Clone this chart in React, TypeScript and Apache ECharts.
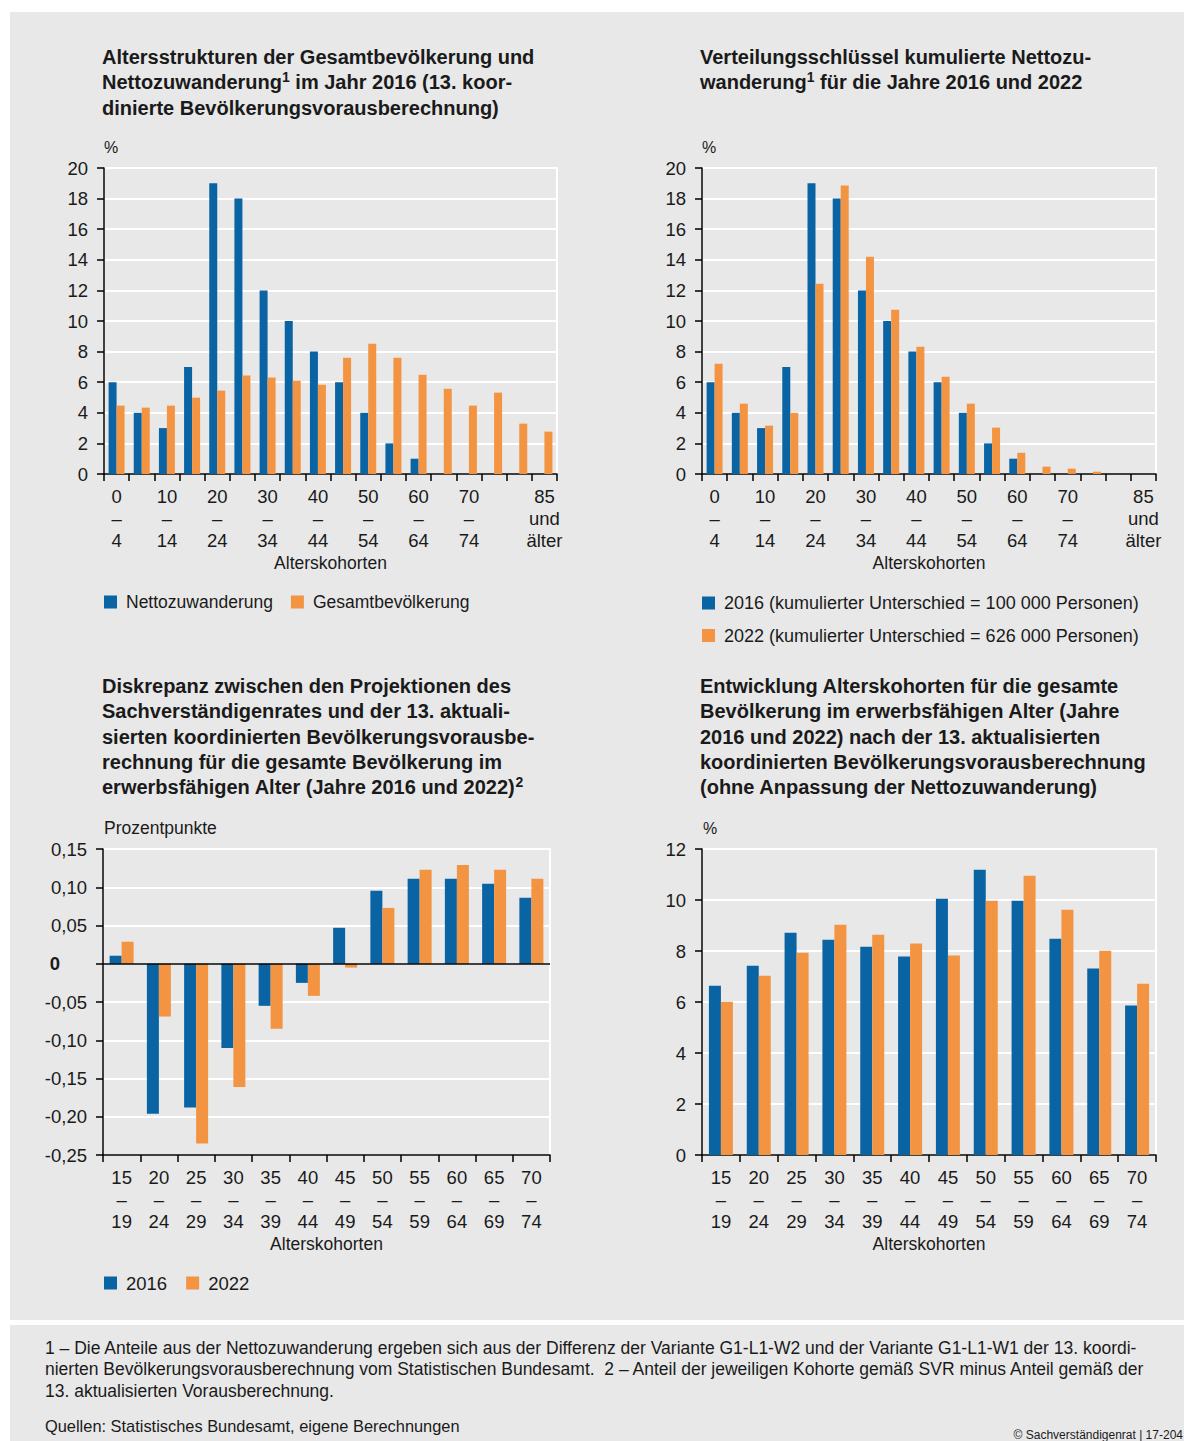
import React, { useEffect, useRef } from 'react';
import * as echarts from 'echarts';

const BLUE = '#0a63a3';
const ORANGE = '#f39443';
const TEXT = '#1a1a1a';
const BG = '#e8e8e8';
const FONT = '"Liberation Sans", Arial, sans-serif';

// Chart 1 + 2: age cohorts (all ages)
const cohortsAll = ['0–4', '5–9', '10–14', '15–19', '20–24', '25–29', '30–34', '35–39', '40–44', '45–49', '50–54', '55–59', '60–64', '65–69', '70–74', '75–79', '80–84', '85 und älter'];
const nettozuwanderung = [6, 4, 3, 7, 19, 18, 12, 10, 8, 6, 4, 2, 1, 0, 0, 0, 0, 0];
const gesamtbevoelkerung = [4.47, 4.34, 4.47, 4.99, 5.45, 6.43, 6.3, 6.1, 5.84, 7.6, 8.52, 7.6, 6.49, 5.58, 4.47, 5.32, 3.29, 2.77];
const verteilung2016 = [6, 4, 3, 7, 19, 18, 12, 10, 8, 6, 4, 2, 1, 0, 0, 0, 0, 0];
const verteilung2022 = [7.21, 4.6, 3.16, 4.0, 12.44, 18.85, 14.2, 10.74, 8.32, 6.36, 4.6, 3.03, 1.39, 0.48, 0.35, 0.15, 0, 0];

// Chart 3 + 4: working-age cohorts
const cohortsWork = ['15–19', '20–24', '25–29', '30–34', '35–39', '40–44', '45–49', '50–54', '55–59', '60–64', '65–69', '70–74'];
const diskrepanz2016 = [0.0105, -0.196, -0.188, -0.11, -0.055, -0.025, 0.047, 0.0954, 0.111, 0.111, 0.1046, 0.0863];
const diskrepanz2022 = [0.0288, -0.069, -0.235, -0.161, -0.085, -0.042, -0.005, 0.073, 0.123, 0.129, 0.123, 0.111];
const entwicklung2016 = [6.64, 7.42, 8.72, 8.44, 8.17, 7.78, 10.05, 11.19, 9.97, 8.48, 7.31, 5.86];
const entwicklung2022 = [6.01, 7.03, 7.93, 9.03, 8.64, 8.29, 7.82, 9.97, 10.95, 9.62, 8.01, 6.72];

// axis ranges
const yRange1 = { min: 0, max: 20, interval: 2 };
const yRange3 = { min: -0.25, max: 0.15, interval: 0.05 };
const yRange4 = { min: 0, max: 12, interval: 2 };

const legend1 = ['Nettozuwanderung', 'Gesamtbevölkerung'];
const legend2 = ['2016 (kumulierter Unterschied = 100 000 Personen)', '2022 (kumulierter Unterschied = 626 000 Personen)'];
const legend3 = ['2016', '2022'];

const LABEL_SIZE = 17.5;
const TICK_SIZE = 18.5;
const labelStyle = { fontFamily: FONT, fontSize: LABEL_SIZE, color: TEXT };
const tickStyle = { fontFamily: FONT, fontSize: TICK_SIZE, color: TEXT };

const fmtCohort = (v: string) =>
  v.includes('–') ? v.split('–').join('\n–\n') : v.split(' ').join('\n');

const showEveryOther = (i: number) => (i % 2 === 0 && i <= 14) || i === 17;

function xAxisFor(gridIndex: number, data: string[], labelInterval: any) {
  return {
    type: 'category',
    gridIndex,
    data,
    position: 'bottom',
    z: 1,
    axisLine: { onZero: false, lineStyle: { color: '#000', width: 1.5 } },
    axisTick: { show: true, interval: 0, length: 7, lineStyle: { color: '#000', width: 1.5 } },
    axisLabel: { interval: labelInterval, formatter: fmtCohort, margin: 11, lineHeight: 22, ...tickStyle },
    splitLine: { show: false },
    name: 'Alterskohorten',
    nameLocation: 'middle',
    nameGap: 80,
    nameTextStyle: { ...labelStyle },
  };
}

function yAxisFor(gridIndex: number, range: any, formatter?: any, rich?: any) {
  return {
    type: 'value',
    gridIndex,
    ...range,
    z: 1,
    axisLine: { show: true, lineStyle: { color: '#000', width: 1.5 } },
    axisTick: { show: true, length: 7, lineStyle: { color: '#000', width: 1.5 } },
    axisLabel: { margin: 16, formatter, rich, ...tickStyle },
    splitLine: { show: true, lineStyle: { color: '#fff', width: 2 } },
  };
}

function bar(name: string, data: number[], color: string, axisIndex: number, width: number, extra: any = {}) {
  return {
    type: 'bar',
    name,
    data,
    xAxisIndex: axisIndex,
    yAxisIndex: axisIndex,
    barWidth: width,
    barGap: '0%',
    z: 2,
    itemStyle: { color },
    emphasis: { disabled: true },
    ...extra,
  };
}

function txt(text: string, x: number, y: number, size: number, opts: any = {}) {
  const align = opts.align || 'left';
  const vAlign = opts.vAlign || 'middle';
  return {
    type: 'text',
    x,
    y,
    silent: true,
    z: 10,
    style: {
      text,
      fill: TEXT,
      font: `${opts.bold ? 'bold ' : ''}${size}px ${FONT}`,
      fontSize: size,
      fontFamily: FONT,
      fontWeight: opts.bold ? 'bold' : 'normal',
      lineHeight: opts.lineHeight,
      align,
      verticalAlign: vAlign,
      textAlign: align,
      textVerticalAlign: vAlign,
      rich: opts.rich,
    },
  };
}

const supRich = {
  sup: { fontSize: 14, fontWeight: 'bold', fontFamily: FONT, verticalAlign: 'top', lineHeight: 16, fill: TEXT, color: TEXT },
};

const fmtDec = (v: number) => {
  if (Math.abs(v) < 1e-9) return '{z|0}';
  const s = Math.abs(v).toFixed(2).replace('.', ',');
  return v < 0 ? '-' + s : s;
};

const legendBase = {
  padding: 0,
  itemWidth: 13,
  itemHeight: 13,
  icon: 'rect',
  selectedMode: false,
};

export default function App() {
  const ref = useRef<HTMLDivElement>(null);
  useEffect(() => {
    if (!ref.current) return;
    const chart = echarts.init(ref.current, undefined, { renderer: 'svg' });
    const gridBase = { show: true, backgroundColor: 'transparent', borderColor: '#fff', borderWidth: 2, containLabel: false };
    const TITLE = 20;
    const TLH = 25.3;
    chart.setOption({
      animation: false,
      textStyle: { fontFamily: FONT },
      grid: [
        { ...gridBase, left: 104, top: 168, width: 453, height: 306 },
        { ...gridBase, left: 702, top: 168, width: 454, height: 306 },
        { ...gridBase, left: 103, top: 849, width: 447, height: 306 },
        { ...gridBase, left: 702, top: 849, width: 454, height: 306 },
      ],
      xAxis: [
        xAxisFor(0, cohortsAll, showEveryOther),
        xAxisFor(1, cohortsAll, showEveryOther),
        xAxisFor(2, cohortsWork, 0),
        xAxisFor(3, cohortsWork, 0),
      ],
      yAxis: [
        yAxisFor(0, yRange1),
        yAxisFor(1, yRange1),
        yAxisFor(2, yRange3, fmtDec, { z: { fontWeight: 'bold', fontFamily: FONT, fontSize: TICK_SIZE, color: TEXT, padding: [0, 27, 0, 0] } }),
        yAxisFor(3, yRange4),
      ],
      legend: [
        {
          ...legendBase, data: legend1, left: 104, top: 592, orient: 'horizontal', itemGap: 18,
          textStyle: { ...labelStyle, lineHeight: 20, padding: [0, 0, 0, 4] },
        },
        {
          ...legendBase, data: legend2, left: 702, top: 593, orient: 'vertical', itemGap: 12.5,
          textStyle: { ...labelStyle, fontSize: 18, lineHeight: 20, padding: [0, 0, 0, 4] },
        },
        {
          ...legendBase, data: legend3, left: 104, top: 1273, orient: 'horizontal', itemGap: 19,
          textStyle: { ...labelStyle, fontSize: 18.5, lineHeight: 20, padding: [0, 0, 0, 4] },
        },
      ],
      series: [
        bar(legend1[0], nettozuwanderung, BLUE, 0, 8),
        bar(legend1[1], gesamtbevoelkerung, ORANGE, 0, 8),
        bar(legend2[0], verteilung2016, BLUE, 1, 8),
        bar(legend2[1], verteilung2022, ORANGE, 1, 8),
        bar(legend3[0], diskrepanz2016, BLUE, 2, 12),
        bar(legend3[1], diskrepanz2022, ORANGE, 2, 12, {
          markLine: {
            silent: true,
            symbol: ['none', 'none'],
            label: { show: false },
            lineStyle: { color: '#000', width: 1.5, type: 'solid' },
            emphasis: { disabled: true },
            data: [{ yAxis: 0 }],
          },
        }),
        bar(legend3[0], entwicklung2016, BLUE, 3, 12),
        bar(legend3[1], entwicklung2022, ORANGE, 3, 12),
      ],
      graphic: [
        { type: 'rect', silent: true, z: -10, shape: { x: 10, y: 12, width: 1174, height: 1308 }, style: { fill: BG } },
        { type: 'rect', silent: true, z: -10, shape: { x: 10, y: 1325, width: 1174, height: 116 }, style: { fill: BG } },
        txt('Altersstrukturen der Gesamtbevölkerung und\nNettozuwanderung{sup|1} im Jahr 2016 (13. koor-\ndinierte Bevölkerungsvorausberechnung)', 102, 57 - TLH / 2, TITLE, { bold: true, lineHeight: TLH, vAlign: 'top', rich: supRich }),
        txt('Verteilungsschlüssel kumulierte Nettozu-\nwanderung{sup|1} für die Jahre 2016 und 2022', 700, 57 - TLH / 2, TITLE, { bold: true, lineHeight: TLH, vAlign: 'top', rich: supRich }),
        txt('Diskrepanz zwischen den Projektionen des\nSachverständigenrates und der 13. aktuali-\nsierten koordinierten Bevölkerungsvorausbe-\nrechnung für die gesamte Bevölkerung im\nerwerbsfähigen Alter (Jahre 2016 und 2022){sup|2}', 102, 686 - TLH / 2, TITLE, { bold: true, lineHeight: TLH, vAlign: 'top', rich: supRich }),
        txt('Entwicklung Alterskohorten für die gesamte\nBevölkerung im erwerbsfähigen Alter (Jahre\n2016 und 2022) nach der 13. aktualisierten\nkoordinierten Bevölkerungsvorausberechnung\n(ohne Anpassung der Nettozuwanderung)', 700, 686 - TLH / 2, TITLE, { bold: true, lineHeight: TLH, vAlign: 'top' }),
        txt('%', 104, 147, 16),
        txt('%', 702, 147, 16),
        txt('Prozentpunkte', 104, 828, LABEL_SIZE),
        txt('%', 703, 828, 16),
        txt('1 – Die Anteile aus der Nettozuwanderung ergeben sich aus der Differenz der Variante G1-L1-W2 und der Variante G1-L1-W1 der 13. koordi-\nnierten Bevölkerungsvorausberechnung vom Statistischen Bundesamt.  2 – Anteil der jeweiligen Kohorte gemäß SVR minus Anteil gemäß der\n13. aktualisierten Vorausberechnung.', 45, 1348 - 11, 17.5, { lineHeight: 21.5, vAlign: 'top' }),
        txt('Quellen: Statistisches Bundesamt, eigene Berechnungen', 45, 1426, 16.4),
        txt('© Sachverständigenrat | 17-204', 1183, 1435, 12, { align: 'right' }),
      ],
    });
    return () => chart.dispose();
  }, []);
  return (
    <div style={{ position: 'absolute', left: 0, top: 0, width: 1184, height: 1441, background: '#fff' }}>
      <div ref={ref} style={{ width: 1184, height: 1441 }} />
    </div>
  );
}
